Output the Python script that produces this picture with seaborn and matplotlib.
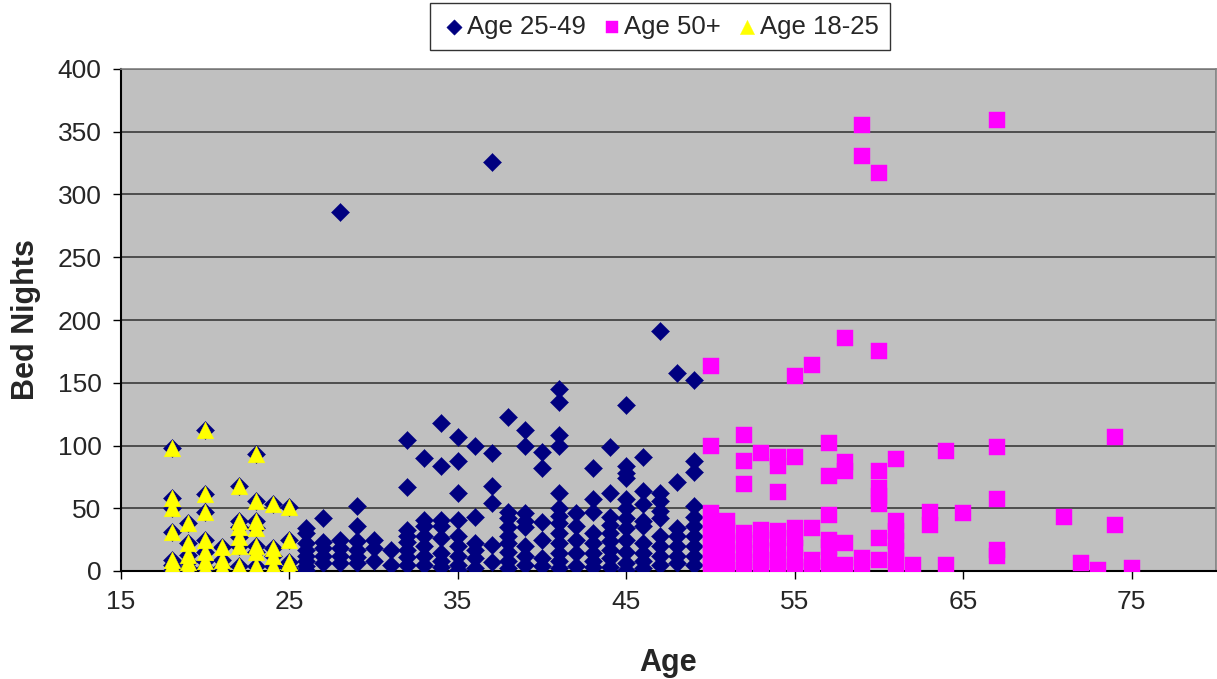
import matplotlib
matplotlib.use("Agg")
import matplotlib.pyplot as plt
import seaborn as sns
import pandas as pd

# values: one list of bed-night counts per age
young_ages = [18, 19, 20, 21, 22, 23, 24, 25]
young_nights = [
    [98, 58, 50, 31, 9, 5, 1],
    [38, 22, 13, 7, 2],
    [112, 61, 47, 25, 15, 8, 2],
    [19, 9, 3],
    [68, 40, 35, 27, 20, 4],
    [93, 56, 40, 34, 20, 15, 4],
    [53, 18, 12, 4],
    [51, 25, 7, 2],
]

mid_ages = list(range(26, 50))
mid_nights = [
    [34, 30, 22, 17, 12, 8, 4, 1],
    [42, 23, 18, 12, 6],
    [286, 25, 18, 12, 6],
    [52, 36, 24, 17, 11, 6],
    [25, 18, 8],
    [17, 5],
    [104, 67, 33, 28, 23, 17, 11, 5],
    [90, 41, 36, 28, 20, 12, 5],
    [118, 84, 41, 36, 26, 14, 8, 3],
    [107, 88, 62, 41, 28, 20, 12, 5, 1],
    [100, 43, 22, 17, 10, 2],
    [326, 94, 68, 54, 21, 7],
    [123, 47, 42, 35, 28, 22, 15, 8, 2],
    [112, 100, 46, 40, 35, 20, 12, 5],
    [95, 82, 39, 25, 10, 4],
    [145, 135, 108, 100, 62, 50, 44, 38, 30, 22, 14, 8, 2],
    [46, 36, 25, 14, 4],
    [82, 57, 47, 30, 22, 14, 8, 3],
    [99, 62, 43, 37, 30, 24, 17, 10, 3],
    [132, 84, 78, 74, 57, 50, 42, 34, 25, 15, 6, 1],
    [91, 64, 53, 40, 36, 22, 14, 8, 2],
    [191, 62, 56, 48, 42, 28, 20, 12, 5],
    [158, 71, 34, 28, 20, 12, 6],
    [152, 88, 79, 52, 43, 36, 28, 20, 12, 5],
]

old_ages = [50, 51, 52, 53, 54, 55, 56, 57, 58, 59, 60, 61, 62, 63, 64, 65, 67, 71, 72, 73, 74, 75]
old_nights = [
    [163, 100, 46, 38, 30, 22, 14, 7, 1],
    [40, 32, 24, 16, 8, 1],
    [108, 88, 69, 30, 22, 14, 7, 1],
    [94, 33, 25, 17, 9, 2],
    [91, 84, 63, 32, 26, 16, 9, 3],
    [155, 91, 34, 26, 18, 10, 3, 0],
    [164, 34, 9, 3],
    [102, 76, 45, 25, 19, 9, 2],
    [186, 87, 80, 22, 5],
    [355, 331, 10, 2],
    [317, 175, 80, 66, 60, 53, 26, 9],
    [89, 40, 32, 24, 16, 8, 2],
    [5],
    [47, 37],
    [96, 5],
    [46],
    [359, 99, 57, 17, 12],
    [43],
    [6],
    [1],
    [107, 37],
    [2],
]


def to_frame(ages, nights):
    rows = [(a, n) for a, vals in zip(ages, nights) for n in vals]
    return pd.DataFrame(rows, columns=["Age", "Bed Nights"])


young = to_frame(young_ages, young_nights)
mid = to_frame(mid_ages, mid_nights)
old = to_frame(old_ages, old_nights)
# the 25-49 series also sits under the yellow triangles in the original
navy_all = pd.concat([young, mid], ignore_index=True)

sns.set_style("white")
plt.rcParams["font.family"] = ["Liberation Sans", "DejaVu Sans"]

fig = plt.figure(figsize=(12.17, 6.79), dpi=100)
ax = fig.add_axes([121 / 1217, 108 / 679, 1095 / 1217, 502 / 679])
ax.set_facecolor("#C0C0C0")

sns.scatterplot(data=navy_all, x="Age", y="Bed Nights", ax=ax, marker="D", s=85,
                color="#000080", edgecolor="#000080", linewidth=0.3, label="Age 25-49", zorder=3)
sns.scatterplot(data=old, x="Age", y="Bed Nights", ax=ax, marker="s", s=118,
                color="#FF00FF", edgecolor="#FF00FF", linewidth=0.3, label="Age 50+", zorder=4)
sns.scatterplot(data=young, x="Age", y="Bed Nights", ax=ax, marker="^", s=145,
                color="#FFFF00", edgecolor="#FFFF00", linewidth=0.3, label="Age 18-25", zorder=5)

ax.set_xlim(15, 80)
ax.set_ylim(0, 400)
ax.set_xticks([15, 25, 35, 45, 55, 65, 75])
ax.set_yticks(range(0, 401, 50))
ax.yaxis.grid(True, color="#3a3a3a", linewidth=1.2)
ax.set_axisbelow(True)
for side in ["left", "bottom"]:
    ax.spines[side].set_color("black")
    ax.spines[side].set_linewidth(1.5)
for side in ["top", "right"]:
    ax.spines[side].set_color("#808080")
    ax.spines[side].set_linewidth(1.2)
ax.tick_params(axis="both", direction="out", length=6, width=1, color="black",
               labelsize=19, pad=8, left=True, bottom=True)

ax.set_xlabel("Age", fontsize=22, fontweight="bold", labelpad=24)
ax.set_ylabel("Bed Nights", fontsize=22, fontweight="bold", labelpad=12)

handles, labels = ax.get_legend_handles_labels()
ax.get_legend().remove()
leg = fig.legend(handles, labels, loc="upper center", bbox_to_anchor=(660 / 1217, 1 - 3 / 679),
                 ncol=3, fontsize=18.5, frameon=True, fancybox=False, edgecolor="black",
                 handletextpad=0.0, columnspacing=0.5, borderpad=0.45, markerscale=0.85,
                 handlelength=1.0, borderaxespad=0)
leg.get_frame().set_linewidth(1)

fig.savefig("out.png", dpi=100)
